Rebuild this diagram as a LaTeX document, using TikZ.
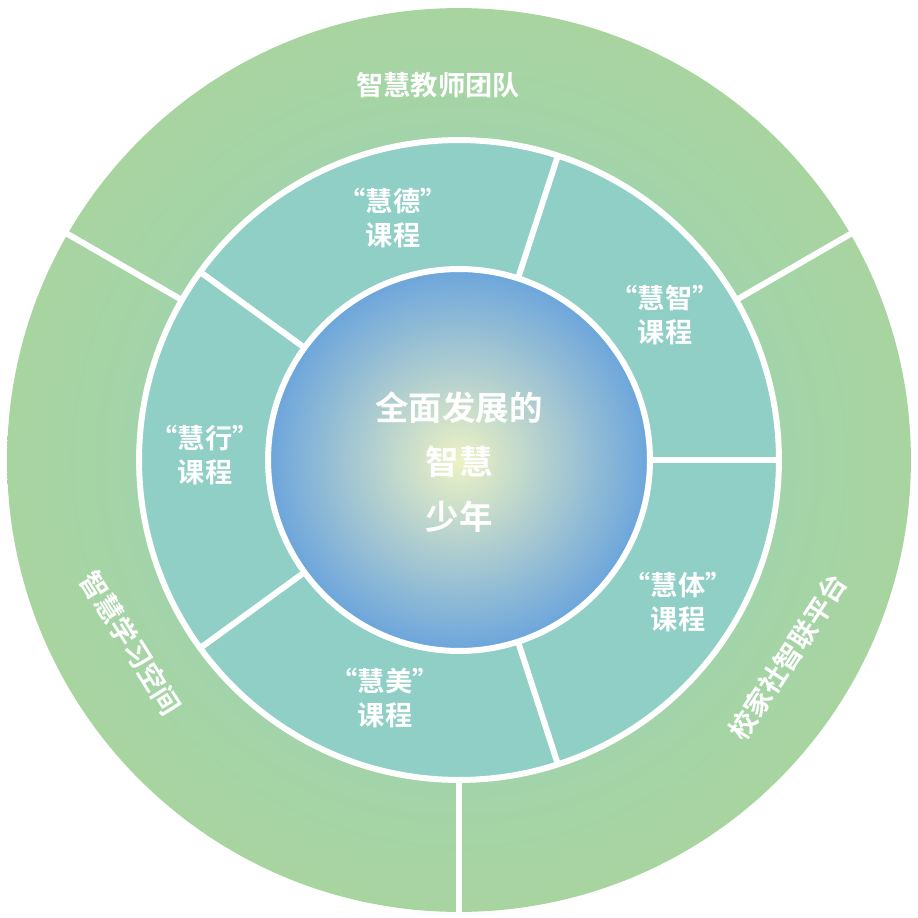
\documentclass[tikz,border=0pt]{standalone}
\usepackage{fontspec}
\usetikzlibrary{calc}
\newfontfamily\cjk{Noto Sans CJK SC}[BoldFont={Noto Sans CJK SC Bold}]
\definecolor{outG}{RGB}{168,212,160}
\definecolor{inG}{RGB}{150,210,190}
\definecolor{midT}{RGB}{143,207,197}
\definecolor{cIn}{RGB}{236,242,196}
\definecolor{cOut}{RGB}{108,165,220}
\begin{document}
\begin{tikzpicture}[x=0.02cm,y=0.02cm,
  lbl/.style={text=white,font=\cjk\bfseries\fontsize{15.5}{19}\selectfont,align=center,inner sep=1pt},
  big/.style={text=white,font=\cjk\bfseries\fontsize{19}{31}\selectfont,align=center},
  div/.style={white,line width=3.4pt}]
\useasboundingbox (0,0) rectangle (917,-918);
\coordinate (C) at (459,-460);
\shade[inner color=inG, outer color=outG] (C) circle (9.04cm);
\fill[midT] (C) circle (6.4cm);
\shade[inner color=cIn, outer color=cOut] (C) circle (3.82cm);
\draw[div] (C) circle (6.4cm);
\draw[div] (C) circle (3.82cm);
\foreach \a in {150,30,270} \draw[div] ($(C)+(\a:6.4cm)$) -- ($(C)+(\a:9.1cm)$);
\foreach \a in {0,72,144,216,288} \draw[div] ($(C)+(\a:3.82cm)$) -- ($(C)+(\a:6.4cm)$);
\node[lbl] (t1) at (438,-85) {智慧教师团队};
\node[lbl,rotate=-58] (t2) at (131,-643) {智慧学习空间};
\node[lbl,rotate=57] (t3) at (788,-657) {校家社智联平台};
\node[lbl] (m1) at (393,-218) {“慧德”\\课程};
\node[lbl] (m2) at (665,-315) {“慧智”\\课程};
\node[lbl] (m3) at (678,-602) {“慧体”\\课程};
\node[lbl] (m4) at (385,-698) {“慧美”\\课程};
\node[lbl] (m5) at (205,-455) {“慧行”\\课程};
\node[big] (c) at (459,-462) {全面发展的\\智慧\\少年};
\end{tikzpicture}
\end{document}
